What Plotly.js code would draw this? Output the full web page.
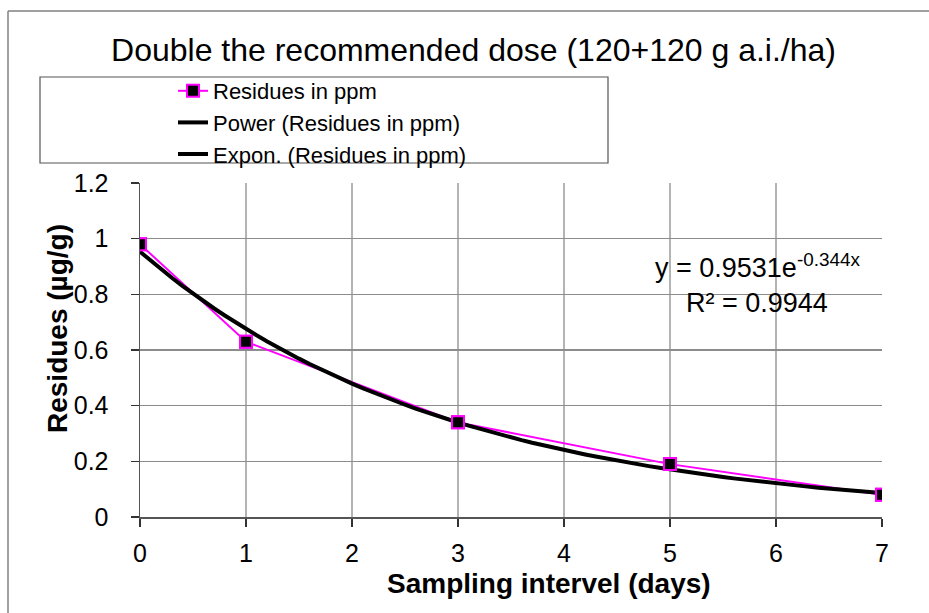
<!DOCTYPE html>
<html>
<head>
<meta charset="utf-8">
<script src="https://cdn.plot.ly/plotly-3.0.1.min.js"></script>
<style>html,body{margin:0;padding:0;background:#fff;}#chart{width:929px;height:613px;}</style>
</head>
<body>
<div id="chart"></div>
<script>
// Data
var days = [0, 1, 3, 5, 7];
var residues = [0.98, 0.63, 0.34, 0.19, 0.08];
// Exponential trendline as displayed on the chart: y = 0.9531e^(-0.344x)
var expA = 0.9531;
var expB = -0.344;
var rSquared = 0.9944;
var xTicks = [0, 1, 2, 3, 4, 5, 6, 7];
var yTicks = [0, 0.2, 0.4, 0.6, 0.8, 1, 1.2];
var seriesName = 'Residues in ppm';
var powerName = 'Power (Residues in ppm)';
var exponName = 'Expon. (Residues in ppm)';
var chartTitle = 'Double the recommended dose (120+120 g a.i./ha)';
var xTitle = 'Sampling intervel (days)';
var yTitle = 'Residues (µg/g)';

var FONT = 'Liberation Sans, Arial, sans-serif';

// trendline curve from the displayed equation
var trendX = [], trendY = [];
for (var i = 0; i <= 70; i++) {
  var xv = i / 10;
  trendX.push(xv);
  trendY.push(expA * Math.exp(expB * xv));
}

var W = 929, H = 613, L = 140, R = 47, T = 183, B = 96;
var pw = W - L - R, ph = H - T - B;
function px(x) { return (x - L) / pw; }
function py(y) { return (H - B - y) / ph; }

var traces = [
  {
    x: days, y: residues, name: seriesName, type: 'scatter', mode: 'lines+markers',
    line: {color: '#FF00FF', width: 2},
    marker: {symbol: 'square', size: 12, color: '#000000', line: {color: '#FF00FF', width: 2}}
  },
  {
    x: [null], y: [null], name: powerName, type: 'scatter', mode: 'lines',
    line: {color: '#000000', width: 4}
  },
  {
    x: trendX, y: trendY, name: exponName, type: 'scatter', mode: 'lines',
    line: {color: '#000000', width: 4}
  },
  {
    x: days, y: residues, name: seriesName, type: 'scatter', mode: 'markers', showlegend: false,
    marker: {symbol: 'square', size: 12, color: '#000000', line: {color: '#FF00FF', width: 2}}
  }
];

var layout = {
  width: W, height: H,
  margin: {l: L, r: R, t: T, b: B, pad: 0},
  paper_bgcolor: '#ffffff', plot_bgcolor: '#ffffff',
  font: {family: FONT, color: '#000000'},
  showlegend: true,
  title: {
    text: chartTitle, font: {family: FONT, size: 32, color: '#000000'},
    xref: 'container', yref: 'container', x: 473.5 / W, xanchor: 'center',
    y: 1 - 50 / H, yanchor: 'middle'
  },
  legend: {
    x: px(173), xanchor: 'left', y: py(70), yanchor: 'top',
    bgcolor: 'rgba(0,0,0,0)', borderwidth: 0,
    font: {family: FONT, size: 22, color: '#000000'},
    tracegroupgap: 0
  },
  xaxis: {
    range: [0, 7], tickvals: xTicks, ticktext: xTicks.map(String),
    showgrid: true, gridcolor: '#b4b4b4', gridwidth: 2,
    showline: true, linecolor: '#555555', linewidth: 1.5,
    ticks: 'outside', ticklen: 8, tickwidth: 1.2, tickcolor: '#333333',
    tickfont: {family: FONT, size: 25, color: '#000000'},
    ticklabelstandoff: 5,
    zeroline: false, fixedrange: true
  },
  yaxis: {
    range: [0, 1.2], tickvals: yTicks, ticktext: yTicks.map(String),
    showgrid: true, gridcolor: '#8c8c8c', gridwidth: 1.5,
    showline: true, linecolor: '#555555', linewidth: 1.5,
    ticks: 'outside', ticklen: 8, tickwidth: 1.2, tickcolor: '#333333',
    tickfont: {family: FONT, size: 25, color: '#000000'},
    ticklabelstandoff: 17,
    zeroline: false, fixedrange: true
  },
  annotations: [
    {
      text: '<b>' + xTitle + '</b>', xref: 'paper', yref: 'paper',
      x: px(548.5), y: py(583), xanchor: 'center', yanchor: 'middle', showarrow: false,
      font: {family: FONT, size: 28, color: '#000000'}
    },
    {
      text: '<b>' + yTitle + '</b>', xref: 'paper', yref: 'paper', textangle: -90,
      x: px(57), y: py(329), xanchor: 'center', yanchor: 'middle', showarrow: false,
      font: {family: FONT, size: 28, color: '#000000'}
    },
    {
      text: 'y = ' + expA + 'e<sup>' + expB + 'x</sup>', xref: 'paper', yref: 'paper',
      x: px(757), y: py(266), xanchor: 'center', yanchor: 'middle', showarrow: false,
      font: {family: FONT, size: 27, color: '#000000'}
    },
    {
      text: 'R² = ' + rSquared, xref: 'paper', yref: 'paper',
      x: px(757), y: py(303), xanchor: 'center', yanchor: 'middle', showarrow: false,
      font: {family: FONT, size: 27, color: '#000000'}
    }
  ],
  shapes: [
    // outer chart-area border (left and top edges visible)
    {type: 'line', xref: 'paper', yref: 'paper', x0: px(8), x1: px(8), y0: py(11), y1: py(H + 20),
     line: {color: '#808080', width: 1.5}},
    {type: 'line', xref: 'paper', yref: 'paper', x0: px(8), x1: px(W + 20), y0: py(11), y1: py(11),
     line: {color: '#808080', width: 1.5}},
    // legend box
    {type: 'rect', xref: 'paper', yref: 'paper', x0: px(40), x1: px(608), y0: py(77), y1: py(163),
     line: {color: '#555555', width: 1.2}, fillcolor: 'rgba(0,0,0,0)'}
  ]
};

Plotly.newPlot('chart', traces, layout, {displayModeBar: false, staticPlot: true});
</script>
</body>
</html>
